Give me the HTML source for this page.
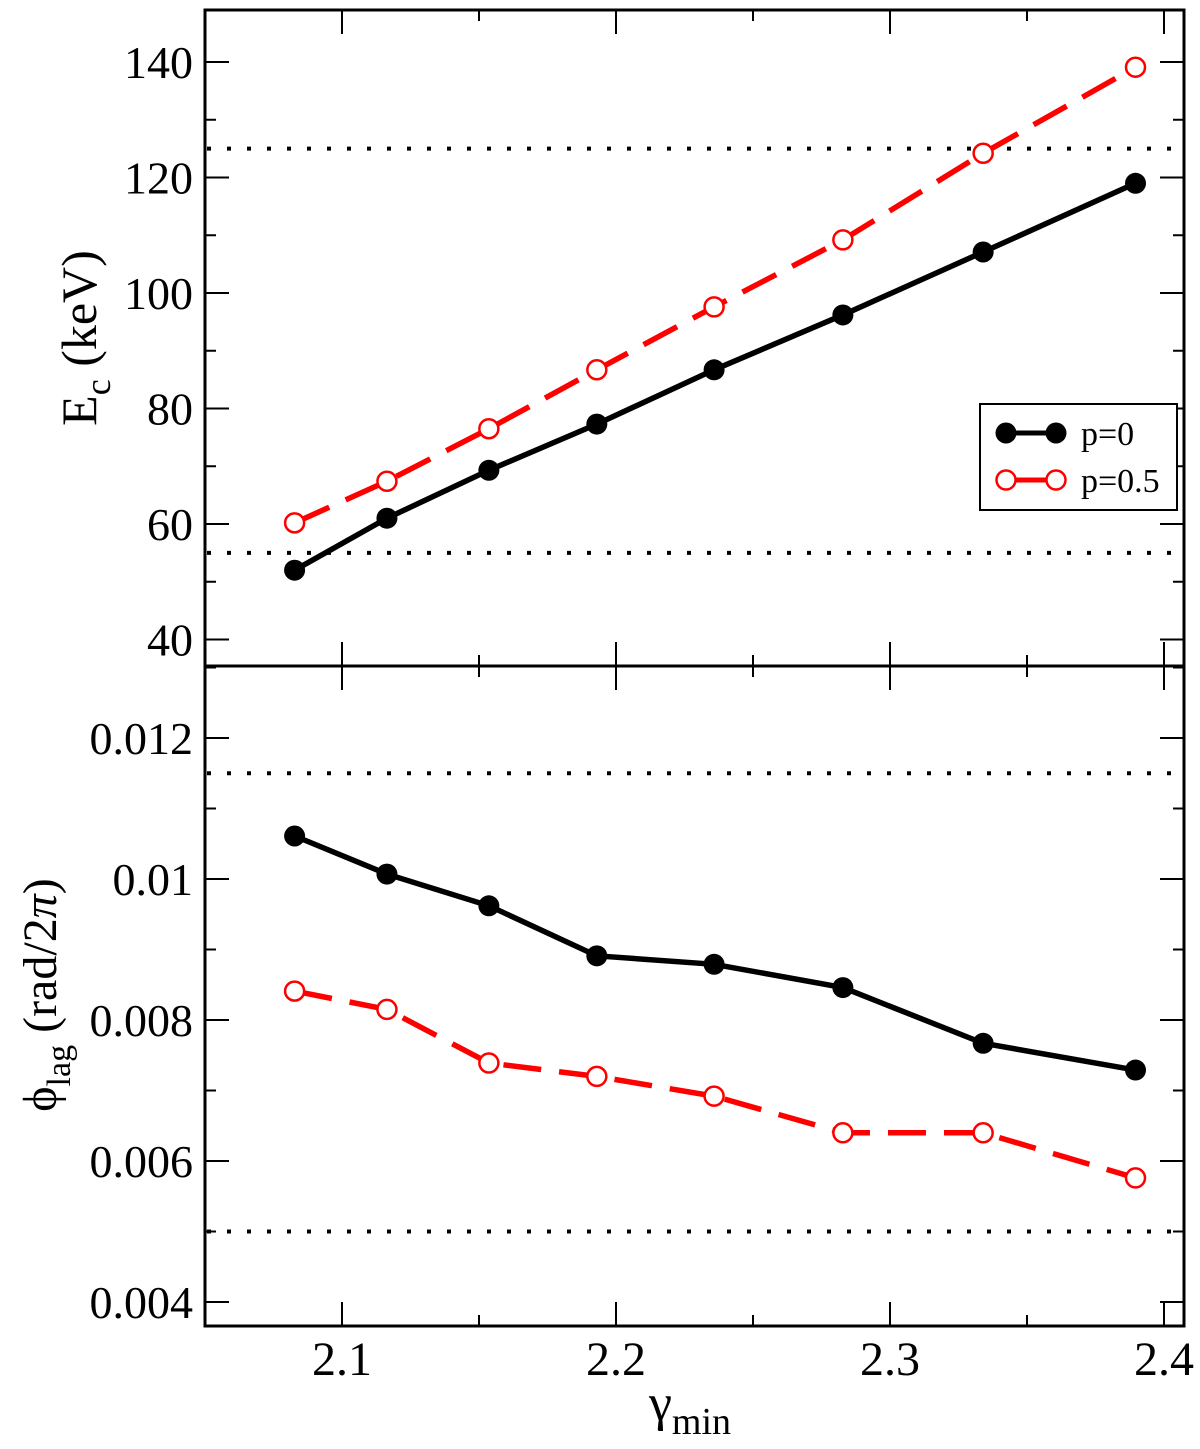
<!DOCTYPE html>
<html><head><meta charset="utf-8"><style>
body{margin:0;background:#fff}
svg text{font-family:"Liberation Serif",serif;fill:#000}
</style></head><body>
<svg id="chart" width="1200" height="1444" xmlns="http://www.w3.org/2000/svg">
<g id="g"></g>
</svg>
<script>
const xVals=[2.0827,2.1164,2.1536,2.193,2.2358,2.2828,2.334,2.3896];
const ecP0=[52.0,61.0,69.3,77.3,86.7,96.2,107.1,119.0];
const ecP05=[60.2,67.4,76.5,86.7,97.6,109.2,124.2,139.1];
const lagP0=[0.01061,0.01007,0.00962,0.00891,0.00879,0.00846,0.00767,0.00729];
const lagP05=[0.00841,0.00815,0.00739,0.00720,0.00692,0.00640,0.00640,0.00576];
const ecRefLines=[125,55];
const lagRefLines=[0.0115,0.005];
const xTickLabels=["2.1","2.2","2.3","2.4"];
const ecTickLabels=["40","60","80","100","120","140"];
const lagTickLabels=["0.004","0.006","0.008","0.01","0.012"];

const L=205,R=1184,T=10,M=666,B=1326;
const X=v=>342+(v-2.1)*2740;
const YT=v=>62+(140-v)*5.775;
const YB=v=>879+(0.01-v)*70500;
const NS="http://www.w3.org/2000/svg";
const g=document.getElementById('g');
function el(tag,attrs,txt){const e=document.createElementNS(NS,tag);for(const k in attrs)e.setAttribute(k,attrs[k]);if(txt!==undefined)e.textContent=txt;g.appendChild(e);return e;}

function xticks(yb,yt){
  for(let i=0;i<=7;i++){const v=2.05+i*0.05;const x=X(v);const major=Math.abs(v*10-Math.round(v*10))<1e-6;const len=major?24:11;
    let t=el('line',{x1:x,x2:x,y1:yb,y2:yb-len,stroke:'#000','stroke-width':2});
    
    
    t=el('line',{x1:x,x2:x,y1:yt,y2:yt+len,stroke:'#000','stroke-width':2});
    
    
  }
}
xticks(M,T);xticks(B,M);
for(let v=40;v<=140;v+=10){const y=YT(v);const len=v%20===0?24:11;
  for(const [a,b] of [[L,L+len],[R,R-len]]){const t=el('line',{x1:a,x2:b,y1:y,y2:y,stroke:'#000','stroke-width':2});
    
    }}
for(let i=0;i<=9;i++){const v=0.004+i*0.001;const y=YB(v);const len=i%2===0?24:11;
  for(const [a,b] of [[L,L+len],[R,R-len]]){const t=el('line',{x1:a,x2:b,y1:y,y2:y,stroke:'#000','stroke-width':2});
    
    }}

xTickLabels.forEach(s=>{const t=el('text',{x:X(parseFloat(s)),y:1375,'font-size':48,'text-anchor':'middle'},s);
  
  });
ecTickLabels.forEach(s=>{const t=el('text',{x:193,y:YT(parseFloat(s))+16,'font-size':46,'text-anchor':'end'},s);
  
  });
lagTickLabels.forEach(s=>{const t=el('text',{x:193,y:YB(parseFloat(s))+16,'font-size':46,'text-anchor':'end'},s);
  
  });

ecRefLines.forEach(v=>{const t=el('line',{x1:L+2,x2:R,y1:YT(v),y2:YT(v),stroke:'#000','stroke-width':4,'stroke-dasharray':'4 16'});
  
  });
lagRefLines.forEach(v=>{const t=el('line',{x1:L+2,x2:R,y1:YB(v),y2:YB(v),stroke:'#000','stroke-width':4,'stroke-dasharray':'4 16'});
  
  });

function series(vals,Y,color,dash,filled,name){
  const pts=xVals.map((x,i)=>X(x)+','+Y(vals[i])).join(' ');
  const a={points:pts,fill:'none',stroke:color,'stroke-width':5.5};
  if(dash)a['stroke-dasharray']=dash;
  const p=el('polyline',a);
  
  
  xVals.forEach((x,i)=>{const c=el('circle',{cx:X(x),cy:Y(vals[i]),r:filled?10.5:9.5,fill:filled?color:'#fff',stroke:color,'stroke-width':filled?0:2.5});
    
    });
}
series(ecP0,YT,'#000',null,true,'ec-p0');
series(ecP05,YT,'#f00','38 18',false,'ec-p05');
series(lagP0,YB,'#000',null,true,'lag-p0');
series(lagP05,YB,'#f00','38 18',false,'lag-p05');

let f=el('rect',{x:L,y:T,width:R-L,height:B-T,fill:'none',stroke:'#000','stroke-width':3});


f=el('line',{x1:L,x2:R,y1:M,y2:M,stroke:'#000','stroke-width':3});



let lg=el('rect',{x:980,y:404,width:197,height:106,fill:'#fff',stroke:'#000','stroke-width':2});


lg=el('line',{x1:1006,x2:1056,y1:433,y2:433,stroke:'#000','stroke-width':5});


[1006,1056].forEach(cx=>{const c=el('circle',{cx:cx,cy:433,r:10.5,fill:'#000'});
  
  });
lg=el('text',{x:1081,y:445,'font-size':34},'p=0');


lg=el('line',{x1:1006,x2:1056,y1:480,y2:480,stroke:'#f00','stroke-width':5});


[1006,1056].forEach(cx=>{const c=el('circle',{cx:cx,cy:480,r:9.5,fill:'#fff',stroke:'#f00','stroke-width':2.5});
  
  });
lg=el('text',{x:1081,y:492,'font-size':34},'p=0.5');


</script>
<div style="position:absolute;left:0;top:0;width:1200px;height:1444px;pointer-events:none">
<svg width="1200" height="1444" style="position:absolute;left:0;top:0">
<text transform="translate(96,338) rotate(-90)" text-anchor="middle" font-size="50" font-family="Liberation Serif, serif">E<tspan font-size="36" dy="14">c</tspan><tspan dy="-14"> (keV)</tspan></text>
<text transform="translate(56,995) rotate(-90)" text-anchor="middle" font-size="48" font-family="Liberation Serif, serif">ϕ<tspan font-size="34" dy="14">lag</tspan><tspan dy="-14"> (rad/2</tspan><tspan font-style="italic">π</tspan>)</text>
<text x="690" y="1420" text-anchor="middle" font-size="52" font-family="Liberation Serif, serif">γ<tspan font-size="38" dy="14">min</tspan></text>
</svg>
</div>
</body></html>
